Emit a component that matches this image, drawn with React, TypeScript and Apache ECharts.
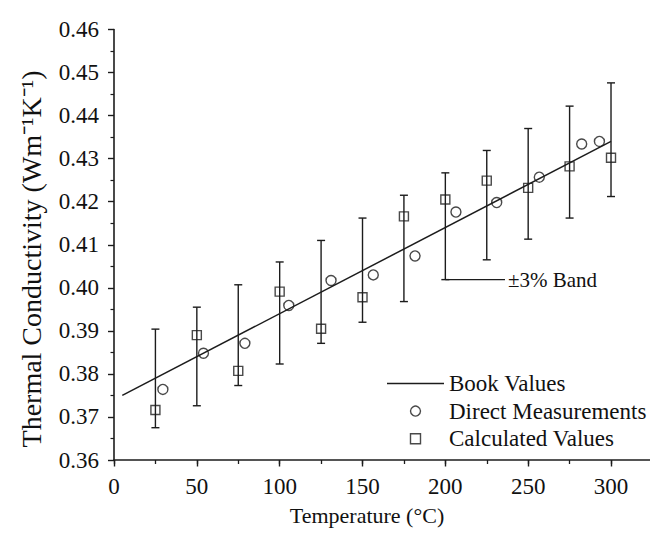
import { useEffect, useRef, useState } from 'react';
import * as echarts from 'echarts';

// ---- data ----
const bookTemps = [5, 300];
const bookValues = [0.375, 0.434];

const directTemps = [29.5, 54, 79, 105.5, 131, 156.5, 181.7, 206.4, 231, 256.7, 282.3, 293];
const directValues = [0.3764, 0.3848, 0.3871, 0.3959, 0.4017, 0.403, 0.4074, 0.4176, 0.4198, 0.4257, 0.4334, 0.434];

const calcTemps = [25, 50, 75, 100, 125, 150, 175, 200, 225, 250, 275, 300];
const calcValues = [0.3716, 0.389, 0.3807, 0.3991, 0.3905, 0.3978, 0.4166, 0.4205, 0.4249, 0.4232, 0.4282, 0.4302];
const calcUpper = [0.3904, 0.3955, 0.4007, 0.406, 0.411, 0.4162, 0.4215, 0.4267, 0.4319, 0.437, 0.4422, 0.4476];
const calcLower = [0.3675, 0.3726, 0.3773, 0.3823, 0.3871, 0.392, 0.3968, 0.4019, 0.4065, 0.4113, 0.4162, 0.4212];

const xTickLabels = [0, 50, 100, 150, 200, 250, 300];
const bandLabel = '±3% Band';
const bandIndex = 7; // the 200 °C error bar
const bandEndTemp = 236;

const seriesNames = ['Book Values', 'Direct Measurements', 'Calculated Values'];
const xTitle = 'Temperature (°C)';
const yTitle = 'Thermal Conductivity (Wm⁻¹K⁻¹)';

const INK = '#1c1c1c';
const FAMILY = 'Liberation Serif';
const FONT = "'Liberation Serif', 'Times New Roman', serif";
const PX = 1.6567; // pixels per °C

export default function App() {
  const ref = useRef<HTMLDivElement>(null);
  const [, setReady] = useState(0);

  useEffect(() => {
    if (!ref.current) return;
    const chart = echarts.init(ref.current, undefined, { renderer: 'svg' });

    const axisCommon = {
      type: 'value',
      splitLine: { show: false },
    };

    const option: any = {
      animation: false,
      backgroundColor: '#ffffff',
      textStyle: { fontFamily: FAMILY },
      grid: {
        left: 114,
        top: 29.5,
        width: 350 * PX,
        height: 430.5,
        containLabel: false,
        outerBoundsMode: 'none',
      },
      xAxis: [
        {
          ...axisCommon,
          min: 0,
          max: 350,
          interval: 25,
          position: 'bottom',
          axisLine: { show: true, onZero: false, lineStyle: { color: INK, width: 1.6 } },
          axisTick: { show: true, length: 4, lineStyle: { color: INK, width: 1.3 } },
          axisLabel: { show: false },
        },
        {
          ...axisCommon,
          min: 0,
          max: 350,
          interval: 50,
          position: 'bottom',
          axisLine: { show: false, onZero: false },
          axisTick: { show: true, length: 6.5, lineStyle: { color: INK, width: 1.4 } },
          axisLabel: {
            margin: 15,
            fontSize: 23,
            fontFamily: FAMILY,
            color: '#111',
            formatter: (v: number) => (xTickLabels.indexOf(v) >= 0 ? String(v) : ''),
          },
        },
      ],
      yAxis: {
        ...axisCommon,
        min: 0.36,
        max: 0.46,
        interval: 0.01,
        axisLine: { show: true, onZero: false, lineStyle: { color: INK, width: 1.6 } },
        axisTick: { show: true, length: 6, lineStyle: { color: INK, width: 1.4 } },
        minorTick: { show: true, splitNumber: 2, length: 3.5, lineStyle: { color: INK, width: 1.2 } },
        axisLabel: {
          margin: 15,
          fontSize: 23,
          fontFamily: FAMILY,
          color: '#111',
          formatter: (v: number) => v.toFixed(2),
        },
      },
      legend: {
        orient: 'vertical',
        left: 387,
        top: 372,
        padding: 0,
        itemWidth: 57,
        itemHeight: 10,
        itemGap: 4.6,
        selectedMode: false,
        data: [
          { name: seriesNames[0], icon: 'path://M0 0H57V1.5H0Z', itemStyle: { borderWidth: 0 } },
          { name: seriesNames[1] },
          { name: seriesNames[2] },
        ],
        textStyle: { fontSize: 23, fontFamily: FAMILY, color: '#111' },
        itemStyle: { borderWidth: 1.4 },
        lineStyle: { width: 1.4 },
      },
      graphic: [
        {
          type: 'text',
          x: 367,
          y: 515,
          style: { text: xTitle, font: `22px ${FONT}`, fill: '#111', align: 'center', verticalAlign: 'middle' },
        },
        {
          type: 'text',
          x: 31,
          y: 259,
          rotation: Math.PI / 2,
          style: { text: yTitle, font: `28px ${FONT}`, fill: '#111', align: 'center', verticalAlign: 'middle' },
        },
      ],
      series: [
        {
          name: 'errorbars',
          type: 'custom',
          xAxisIndex: 0,
          data: calcTemps.map((t, i) => [t, calcLower[i], calcUpper[i]]),
          encode: { x: 0, y: [1, 2] },
          renderItem: (_params: any, api: any) => {
            const x = api.value(0);
            const lo = api.coord([x, api.value(1)]);
            const hi = api.coord([x, api.value(2)]);
            const w = 4;
            const style = { stroke: INK, lineWidth: 1.4 };
            return {
              type: 'group',
              children: [
                { type: 'line', shape: { x1: lo[0], y1: lo[1], x2: hi[0], y2: hi[1] }, style },
                { type: 'line', shape: { x1: hi[0] - w, y1: hi[1], x2: hi[0] + w, y2: hi[1] }, style },
                { type: 'line', shape: { x1: lo[0] - w, y1: lo[1], x2: lo[0] + w, y2: lo[1] }, style },
              ],
            };
          },
          z: 2,
        },
        {
          name: 'band',
          type: 'line',
          xAxisIndex: 0,
          data: [
            [calcTemps[bandIndex], calcLower[bandIndex]],
            [bandEndTemp, calcLower[bandIndex]],
          ],
          symbol: 'none',
          lineStyle: { color: INK, width: 1.3 },
          endLabel: {
            show: true,
            formatter: bandLabel,
            distance: 3,
            fontSize: 21,
            fontFamily: FAMILY,
            color: '#111',
          },
          z: 2,
        },
        {
          name: seriesNames[0],
          type: 'line',
          xAxisIndex: 0,
          data: bookTemps.map((t, i) => [t, bookValues[i]]),
          symbol: 'none',
          showSymbol: false,
          lineStyle: { color: INK, width: 1.5 },
          itemStyle: { color: INK },
          z: 3,
        },
        {
          name: seriesNames[1],
          type: 'scatter',
          xAxisIndex: 0,
          data: directTemps.map((t, i) => [t, directValues[i]]),
          symbol: 'circle',
          symbolSize: 10,
          itemStyle: { color: 'transparent', borderColor: INK, borderWidth: 1.4 },
          z: 4,
        },
        {
          name: seriesNames[2],
          type: 'scatter',
          xAxisIndex: 0,
          data: calcTemps.map((t, i) => [t, calcValues[i]]),
          symbol: 'path://M0 0H10V10H0Z',
          symbolSize: 9,
          itemStyle: { color: 'transparent', borderColor: INK, borderWidth: 1.4 },
          z: 4,
        },
      ],
    };

    chart.setOption(option);
    // force a style pass and one more React commit after the chart is drawn
    ref.current.querySelectorAll('text').forEach((t) => getComputedStyle(t).fontFamily);
    setReady((n) => n + 1);
    return () => chart.dispose();
  }, []);

  return (
    <div
      ref={ref}
      style={{ position: 'absolute', left: 0, top: 0, width: 650, height: 543, background: '#fff' }}
    />
  );
}
